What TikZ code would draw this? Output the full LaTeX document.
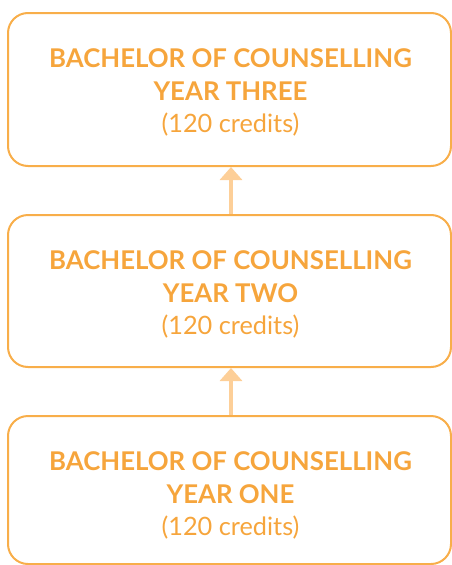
\documentclass[tikz,border=0pt]{standalone}
\usepackage{fontspec}
\setmainfont{Lato}
\usetikzlibrary{arrows.meta}
\definecolor{boxline}{HTML}{F8AE4A}
\definecolor{txtc}{HTML}{F6A53C}
\definecolor{arrc}{HTML}{FDCF98}
\tikzset{
  yearbox/.style={draw=boxline, line width=2pt, rounded corners=20pt, minimum width=443pt, inner sep=0pt},
  titletxt/.style={text=txtc, font=\fontsize{25.8}{25.8}\selectfont\bfseries, anchor=base, inner sep=0pt},
  credtxt/.style={text=txtc, font=\fontsize{25.3}{25.3}\selectfont, anchor=base, inner sep=0pt},
  uparrow/.style={draw=arrc, line width=4.5pt, -{Triangle[width=22pt,length=13pt]}}
}
\begin{document}
\begin{tikzpicture}[x=1pt,y=-1pt]
\useasboundingbox (0,0) rectangle (452,565);
% boxes
\node[yearbox, minimum height=153pt] (b3) at (229.5,89.5) {};
\node[yearbox, minimum height=152pt] (b2) at (229.5,291) {};
\node[yearbox, minimum height=148pt] (b1) at (229.5,490) {};
% texts box three
\node[titletxt] (t3a) at (230.5,67) {BACHELOR OF COUNSELLING};
\node[titletxt] (t3b) at (230.5,100) {YEAR THREE};
\node[credtxt] (t3c) at (230.5,132.5) {(120 credits)};
% texts box two
\node[titletxt] (t2a) at (230.5,269) {BACHELOR OF COUNSELLING};
\node[titletxt] (t2b) at (230.5,302) {YEAR TWO};
\node[credtxt] (t2c) at (230.5,334.5) {(120 credits)};
% texts box one
\node[titletxt] (t1a) at (230.5,470) {BACHELOR OF COUNSELLING};
\node[titletxt] (t1b) at (230.5,503) {YEAR ONE};
\node[credtxt] (t1c) at (230.5,535.5) {(120 credits)};
% arrows
\coordinate (a2s) at (231,214);
\coordinate (a2e) at (231,167);
\coordinate (a1s) at (231,415);
\coordinate (a1e) at (231,368);
\draw[uparrow] (a2s) -- (a2e);
\draw[uparrow] (a1s) -- (a1e);
\end{tikzpicture}
\end{document}
